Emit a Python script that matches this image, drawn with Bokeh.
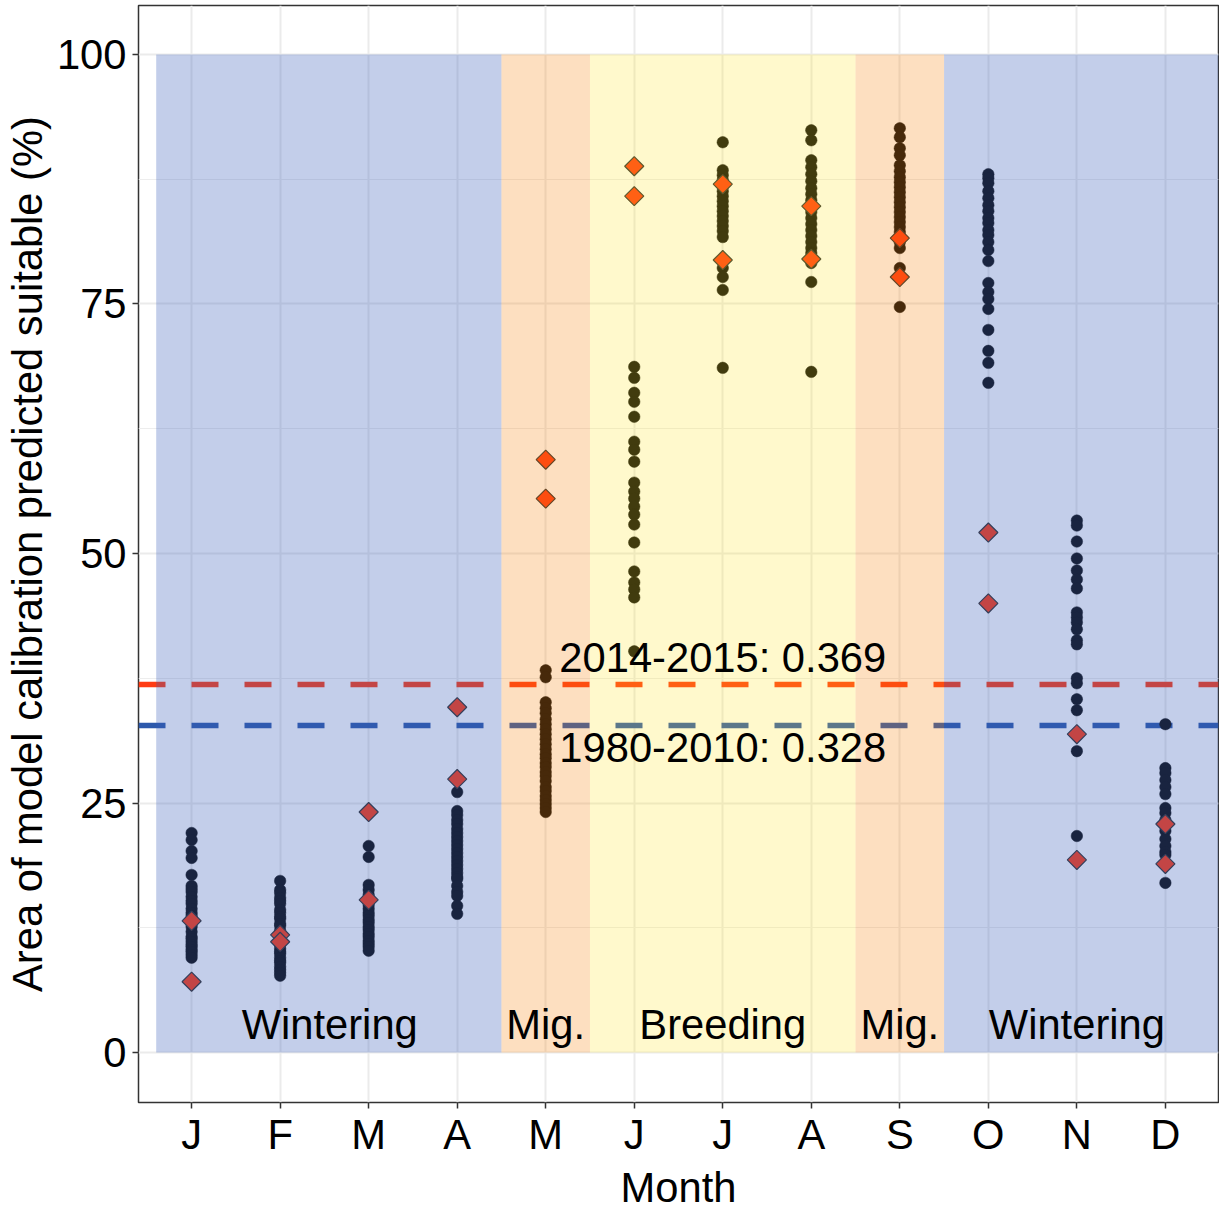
import math
from bokeh.plotting import figure
from bokeh.models import Range1d, FixedTicker, ColumnDataSource
from bokeh.core.properties import value
from bokeh.embed import file_html
from bokeh.resources import INLINE

# ---------------- data ----------------
month_labels = ["J", "F", "M", "A", "M", "J", "J", "A", "S", "O", "N", "D"]

# 1980-2010 monthly values (black dots)
hist_jan = [22.0, 21.3, 20.2, 19.5, 17.8, 16.7, 16.4, 16.1, 15.6, 15.2, 14.9, 14.4, 14.0, 13.7,
            13.4, 13.1, 12.9, 12.6, 12.1, 11.6, 11.4, 11.1, 10.8, 10.6, 10.3, 10.1, 9.8, 9.5]
hist_feb = [17.2, 16.3, 16.0, 15.5, 15.2, 14.9, 14.3, 14.0, 13.6, 13.4, 12.9, 12.7, 12.2, 12.0,
            11.6, 11.3, 11.0, 10.8, 10.4, 10.1, 9.9, 9.5, 9.2, 9.0, 8.6, 8.3, 8.0, 7.7]
hist_mar = [20.7, 19.6, 16.8, 16.3, 15.8, 15.2, 14.8, 14.4, 14.0, 13.7, 13.3, 13.0, 12.6, 12.3,
            11.9, 11.6, 11.2, 10.9, 10.6, 10.2]
hist_apr = [26.1, 24.2, 23.8, 23.3, 22.9, 22.4, 22.0, 21.6, 21.2, 20.8, 20.4, 20.0, 19.6, 19.2,
            18.8, 18.4, 18.0, 17.6, 17.4, 16.7, 16.1, 15.7, 14.7, 13.9]
hist_may = [38.3, 37.6, 35.1, 34.5, 34.0, 33.4, 32.9, 32.4, 31.9, 31.4, 30.9, 30.4, 29.9, 29.5,
            29.0, 28.6, 28.1, 27.7, 27.2, 26.6, 26.2, 25.7, 25.3, 24.9, 24.5, 24.1]
hist_jun = [68.7, 67.6, 66.1, 65.2, 63.7, 61.2, 60.4, 59.2, 57.1, 56.2, 55.5, 54.7, 53.9, 52.9,
            51.1, 48.2, 47.1, 46.4, 45.6, 40.2]
hist_jul = [91.2, 88.4, 87.9, 87.4, 86.8, 86.3, 85.8, 85.3, 84.8, 84.3, 83.8, 83.3, 82.8, 82.3,
            81.7, 78.6, 77.7, 76.4, 68.6]
hist_aug = [92.4, 91.4, 89.4, 88.7, 88.0, 87.3, 86.6, 86.0, 85.4, 84.8, 84.2, 83.6, 83.0, 82.4,
            81.8, 81.2, 80.6, 80.1, 79.1, 77.2, 68.2]
hist_sep = [92.6, 91.7, 90.6, 89.9, 88.9, 88.3, 87.7, 87.2, 86.7, 86.2, 85.7, 85.2, 84.7, 84.2,
            83.7, 83.2, 82.7, 82.2, 81.7, 81.2, 80.6, 78.6, 74.7]
hist_oct = [88.0, 87.6, 87.1, 86.3, 85.6, 84.9, 84.3, 83.6, 83.1, 82.4, 81.9, 81.2, 80.4, 79.3,
            77.1, 76.2, 75.5, 74.5, 72.4, 70.3, 69.1, 67.1]
hist_nov = [53.3, 52.8, 51.2, 49.5, 48.3, 47.4, 46.5, 44.1, 43.6, 43.1, 42.4, 41.3, 40.9, 37.5,
            37.0, 35.4, 34.3, 30.2, 21.7]
hist_dec = [32.9, 28.5, 28.0, 27.3, 26.6, 25.9, 24.5, 24.0, 23.3, 22.2, 21.4, 20.7, 20.1, 19.8, 17.0]

# 2014 / 2015 monthly values (diamonds)
recent_2014 = [13.2, 11.8, 24.1, 34.6, 59.4, 88.8, 87.0, 84.8, 81.6, 52.1, 31.9, 22.9]
recent_2015 = [7.1, 11.1, 15.3, 27.4, 55.5, 85.8, 79.4, 79.5, 77.7, 45.0, 19.3, 18.9]

# thresholds
threshold_values = [36.9, 32.8]
threshold_labels = ["2014-2015: 0.369", "1980-2010: 0.328"]

# seasons
season_names = ["Wintering", "Mig.", "Breeding", "Mig.", "Wintering"]
season_start = [0.6, 4.5, 5.5, 8.5, 9.5]
season_end = [4.5, 5.5, 8.5, 9.5, 12.6]

# ---------------- build ----------------
hist_all = [hist_jan, hist_feb, hist_mar, hist_apr, hist_may, hist_jun,
            hist_jul, hist_aug, hist_sep, hist_oct, hist_nov, hist_dec]
hx, hy = [], []
for i, vals in enumerate(hist_all):
    for v in vals:
        hx.append(i + 1)
        hy.append(v)
months = list(range(1, 13))
dx = months + months
dy = recent_2014 + recent_2015

FONT = "Liberation Sans"
FS = "41.7px"

p = figure(width=1219, height=1213, output_backend="svg", toolbar_location=None,
           x_range=Range1d(0.4, 12.6), y_range=Range1d(-5.0, 104.9),
           min_border_left=138, min_border_right=1, min_border_top=5, min_border_bottom=109)
p.background_fill_color = "white"
p.border_fill_color = "white"
p.outline_line_color = "#333333"
p.outline_line_width = 1.5

# grid
p.xaxis.ticker = FixedTicker(ticks=months)
p.xaxis.major_label_overrides = {m: lab for m, lab in zip(months, month_labels)}
p.yaxis.ticker = FixedTicker(ticks=[0, 25, 50, 75, 100], minor_ticks=[12.5, 37.5, 62.5, 87.5])
p.xgrid.grid_line_color = "#EBEBEB"
p.xgrid.grid_line_width = 2
p.ygrid.grid_line_color = "#EBEBEB"
p.ygrid.grid_line_width = 2
p.ygrid.minor_grid_line_color = "#EDEDED"
p.ygrid.minor_grid_line_width = 1.2

for ax in (p.xaxis, p.yaxis):
    ax.axis_line_color = None
    ax.major_tick_line_color = "#333333"
    ax.major_tick_line_width = 1.5
    ax.major_tick_out = 6
    ax.major_tick_in = 0
    ax.minor_tick_out = 0
    ax.minor_tick_in = 0
    ax.major_label_text_font = FONT
    ax.major_label_text_font_size = FS
    ax.major_label_text_color = "black"
    ax.axis_label_text_font = FONT
    ax.axis_label_text_font_size = FS
    ax.axis_label_text_font_style = "normal"
    ax.axis_label_text_color = "black"
p.xaxis.axis_label = "Month"
p.yaxis.axis_label = "Area of model calibration predicted suitable (%)"
p.xaxis.major_label_standoff = 2
p.xaxis.axis_label_standoff = 3
p.yaxis.major_label_standoff = 6
p.yaxis.axis_label_standoff = 3

# threshold lines (below the season overlay)
p.hspan(y=threshold_values, line_color=["#FF3C14", "#2D59AB"], line_width=5.5, line_dash="27 26")

# points
p.scatter(hx, hy, marker="circle", size=11.5, fill_color="#0c0c0c", line_color="#0c0c0c", line_width=0.5)
p.scatter(dx, dy, marker="square", angle=math.pi / 4, size=13.5,
          fill_color="#FF3C14", line_color="#333333", line_width=1.2)

# season overlays
season_colors = ["#375CB9", "#F77F03", "#FFE317", "#F77F03", "#375CB9"]
season_alpha = [0.3, 0.25, 0.22, 0.25, 0.3]
src = ColumnDataSource(dict(left=season_start, right=season_end,
                            bottom=[0] * 5, top=[100] * 5, color=season_colors, alpha=season_alpha))
p.quad(left="left", right="right", bottom="bottom", top="top", source=src,
       fill_color="color", fill_alpha="alpha", line_color=None)

# texts
season_x = [2.56, 5.0, 7.0, 9.0, 11.0]
p.text(x=season_x, y=[2.85] * 5, text=season_names, text_font=value(FONT), text_font_size=FS,
       text_align="center", text_baseline="alphabetic", text_color="black")
p.text(x=[7.0, 7.0], y=[39.55, 30.55], text=threshold_labels, text_font=value(FONT),
       text_font_size=FS, text_align="center", text_baseline="alphabetic", text_color="black")

open("out.html", "w").write(file_html(p, INLINE))
